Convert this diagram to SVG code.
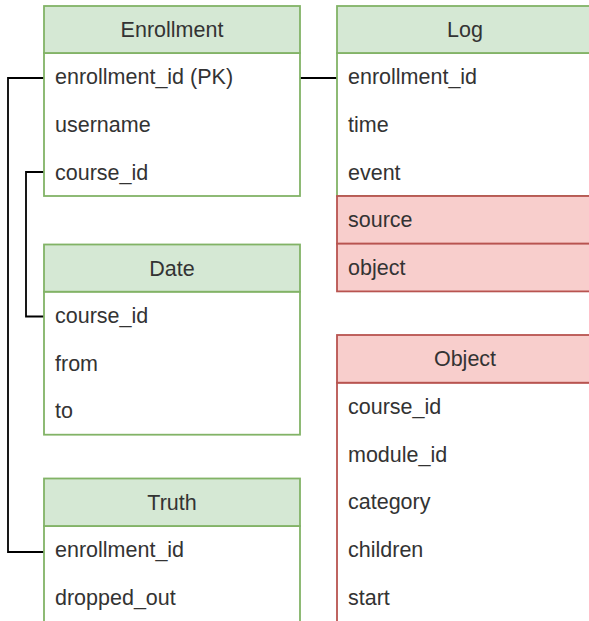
<svg xmlns="http://www.w3.org/2000/svg" width="589" height="621" viewBox="0 0 589 621">
<style>
.hg{fill:#d5e8d4;stroke:#82b366;stroke-width:1.8}
.bg{fill:#ffffff;stroke:#82b366;stroke-width:1.8}
.hr{fill:#f8cecc;stroke:#b85450;stroke-width:1.8}
.br{fill:#ffffff;stroke:#b85450;stroke-width:1.8}
text{font-family:"Liberation Sans",Arial,sans-serif;font-size:21.5px;fill:#333333}
.t{text-anchor:middle}
.c{fill:none;stroke:#000000;stroke-width:1.8}
</style>
<rect width="589" height="621" fill="#ffffff"/>
<g id="connectors">
<path class="c" d="M44 78 H8 V552 H44"/>
<path class="c" d="M44 172 H26 V316.5 H44"/>
<path class="c" d="M300 78 H337"/>
</g>
<g id="enrollment">
<rect class="bg" x="44" y="53" width="256" height="143"/>
<rect class="hg" x="44" y="6" width="256" height="47"/>
<text class="t" x="172" y="36.9">Enrollment</text>
<text x="55" y="84.3">enrollment_id (PK)</text>
<text x="55" y="132">username</text>
<text x="55" y="179.6">course_id</text>
</g>
<g id="log">
<rect class="bg" x="337" y="53" width="256" height="143"/>
<rect class="hg" x="337" y="6" width="256" height="47"/>
<rect class="hr" x="337" y="196" width="256" height="47.7"/>
<rect class="hr" x="337" y="243.7" width="256" height="47.7"/>
<text class="t" x="465" y="36.9">Log</text>
<text x="348" y="84.3">enrollment_id</text>
<text x="348" y="132">time</text>
<text x="348" y="179.6">event</text>
<text x="348" y="227.3">source</text>
<text x="348" y="275">object</text>
</g>
<g id="date">
<rect class="bg" x="44" y="291.7" width="256" height="143"/>
<rect class="hg" x="44" y="244.5" width="256" height="47.2"/>
<text class="t" x="172" y="275.5">Date</text>
<text x="55" y="323">course_id</text>
<text x="55" y="370.6">from</text>
<text x="55" y="418.3">to</text>
</g>
<g id="truth">
<rect class="bg" x="44" y="526" width="256" height="100"/>
<rect class="hg" x="44" y="478.5" width="256" height="47.5"/>
<text class="t" x="172" y="509.7">Truth</text>
<text x="55" y="557.3">enrollment_id</text>
<text x="55" y="605">dropped_out</text>
</g>
<g id="object">
<rect class="br" x="337" y="382.7" width="256" height="245"/>
<rect class="hr" x="337" y="335" width="256" height="47.7"/>
<text class="t" x="465" y="366.3">Object</text>
<text x="348" y="414">course_id</text>
<text x="348" y="461.7">module_id</text>
<text x="348" y="509.3">category</text>
<text x="348" y="557">children</text>
<text x="348" y="604.7">start</text>
</g>
</svg>
